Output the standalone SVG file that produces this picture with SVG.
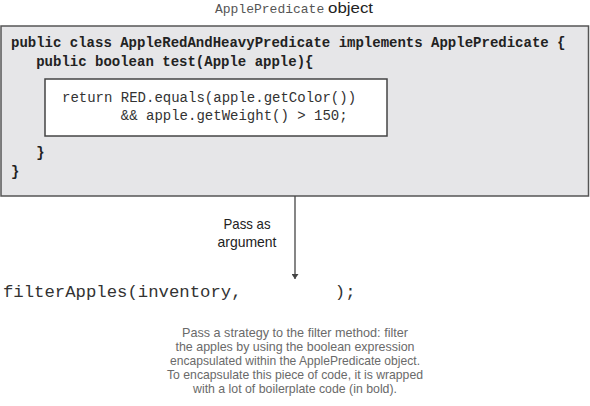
<svg xmlns="http://www.w3.org/2000/svg" width="590" height="406" viewBox="0 0 590 406">
<style>
.mono{font-family:"Liberation Mono","DejaVu Sans Mono",monospace;white-space:pre}
.bold{font-weight:bold;fill:#222;font-size:14px}
.reg{fill:#333;font-size:14px}
.sans{font-family:"Liberation Sans",Arial,sans-serif}
.desc{fill:#6a6a6a;font-size:13px;text-anchor:middle}
</style>
<defs>
<marker id="ah" markerWidth="5" markerHeight="7" refX="5" refY="3.5" orient="auto" markerUnits="userSpaceOnUse">
<path d="M0,0 L5,3.5 L0,7 Z" fill="#444"/>
</marker>
</defs>
<rect width="590" height="406" fill="#fff"/>
<g id="title">
<text x="215" y="13" class="mono" font-size="13" fill="#555">ApplePredicate</text>
<text x="328" y="13" class="sans" font-size="15" fill="#222" textLength="45" lengthAdjust="spacingAndGlyphs">object</text>
</g>
<g id="predicate-object">
<rect x="1" y="26" width="587.5" height="170" fill="#e6e6e8" stroke="#555" stroke-width="1.5"/>
<text x="11" y="47" class="mono bold">public class AppleRedAndHeavyPredicate implements ApplePredicate {</text>
<text x="11" y="66" class="mono bold">   public boolean test(Apple apple){</text>
<text x="11" y="157" class="mono bold">   }</text>
<text x="11" y="176" class="mono bold">}</text>
</g>
<g id="expression">
<rect x="45" y="79" width="342" height="57" fill="#fff" stroke="#444" stroke-width="1.5"/>
<text x="62" y="102" class="mono reg">return RED.equals(apple.getColor())</text>
<text x="62" y="120" class="mono reg">       &amp;&amp; apple.getWeight() &gt; 150;</text>
</g>
<g id="connectors">
<line x1="295" y1="196" x2="295" y2="279" stroke="#444" stroke-width="1.3" marker-end="url(#ah)"/>
</g>
<g id="arrow-label">
<text x="247" y="229" class="sans" font-size="14.5" fill="#222" text-anchor="middle" textLength="47" lengthAdjust="spacingAndGlyphs">Pass as</text>
<text x="247" y="247" class="sans" font-size="14.5" fill="#222" text-anchor="middle" textLength="59" lengthAdjust="spacingAndGlyphs">argument</text>
</g>
<g id="call">
<text x="3" y="297" class="mono" font-size="17.3" fill="#333">filterApples(inventory,         );</text>
</g>
<g id="description">
<text x="295" y="337" class="sans desc" textLength="226" lengthAdjust="spacingAndGlyphs">Pass a strategy to the filter method: filter</text>
<text x="295" y="351" class="sans desc" textLength="239" lengthAdjust="spacingAndGlyphs">the apples by using the boolean expression</text>
<text x="295" y="365" class="sans desc" textLength="250" lengthAdjust="spacingAndGlyphs">encapsulated within the ApplePredicate object.</text>
<text x="295" y="379" class="sans desc" textLength="256" lengthAdjust="spacingAndGlyphs">To encapsulate this piece of code, it is wrapped</text>
<text x="295" y="393" class="sans desc" textLength="204" lengthAdjust="spacingAndGlyphs">with a lot of boilerplate code (in bold).</text>
</g>
</svg>
